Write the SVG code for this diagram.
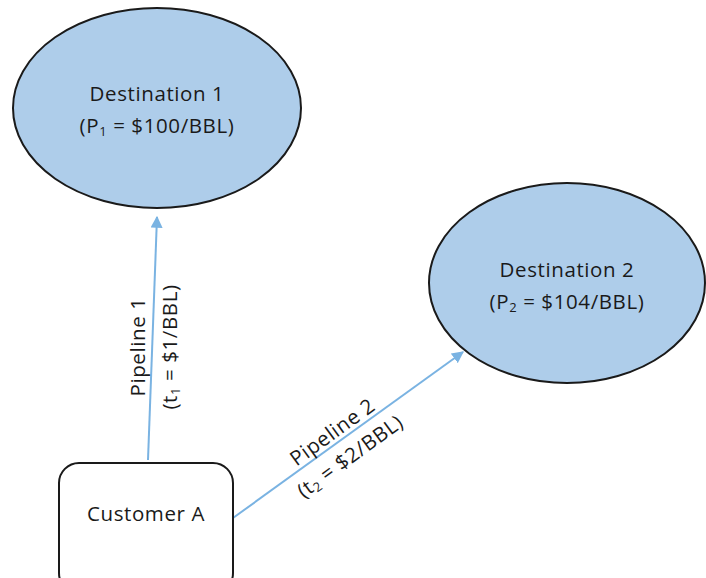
<svg xmlns="http://www.w3.org/2000/svg" width="706" height="578" viewBox="0 0 706 578">
<style>
.dest{fill:#aecdea;stroke:#1a1a1a;stroke-width:2}
.box{fill:#ffffff;stroke:#1a1a1a;stroke-width:2}
.t{font-family:"Open Sans",Lato,sans-serif;font-size:20.5px;letter-spacing:0.6px;fill:#1a1a1a;text-anchor:middle}
.conn{stroke:#7ab3e2;stroke-width:2;fill:none}
</style>
<defs>
<marker id="ah" viewBox="0 0 10 10" refX="9" refY="5" markerWidth="6" markerHeight="6" orient="auto" markerUnits="strokeWidth">
<path d="M0,0 L10,5 L0,10 z" fill="#7ab3e2"/>
</marker>
</defs>
<rect width="706" height="578" fill="#ffffff"/>
<g id="connectors">
<line class="conn" x1="148" y1="460" x2="157" y2="217" marker-end="url(#ah)"/>
<line class="conn" x1="233" y1="518" x2="463" y2="352" marker-end="url(#ah)"/>
<g transform="translate(148,347) rotate(-90)">
<text class="t" x="0" y="-3">Pipeline 1</text>
<text class="t" x="0" y="29">(t<tspan font-size="13" dy="3">1</tspan><tspan dy="-3"> = $1/BBL)</tspan></text>
</g>
<g transform="translate(339,441) rotate(-36)">
<text class="t" x="0" y="-4">Pipeline 2</text>
<text class="t" x="0" y="26">(t<tspan font-size="13" dy="3">2</tspan><tspan dy="-3"> = $2/BBL)</tspan></text>
</g>
</g>
<g id="destination1">
<ellipse class="dest" cx="157" cy="108" rx="144" ry="100"/>
<text class="t" x="157" y="101">Destination 1</text>
<text class="t" x="157" y="133">(P<tspan font-size="13" dy="3">1</tspan><tspan dy="-3"> = $100/BBL)</tspan></text>
</g>
<g id="destination2">
<ellipse class="dest" cx="567" cy="283" rx="138" ry="100"/>
<text class="t" x="567" y="277">Destination 2</text>
<text class="t" x="567" y="309">(P<tspan font-size="13" dy="3">2</tspan><tspan dy="-3"> = $104/BBL)</tspan></text>
</g>
<g id="customerA">
<rect class="box" x="59" y="463" width="174" height="130" rx="20"/>
<text class="t" x="146" y="521">Customer A</text>
</g>
</svg>
